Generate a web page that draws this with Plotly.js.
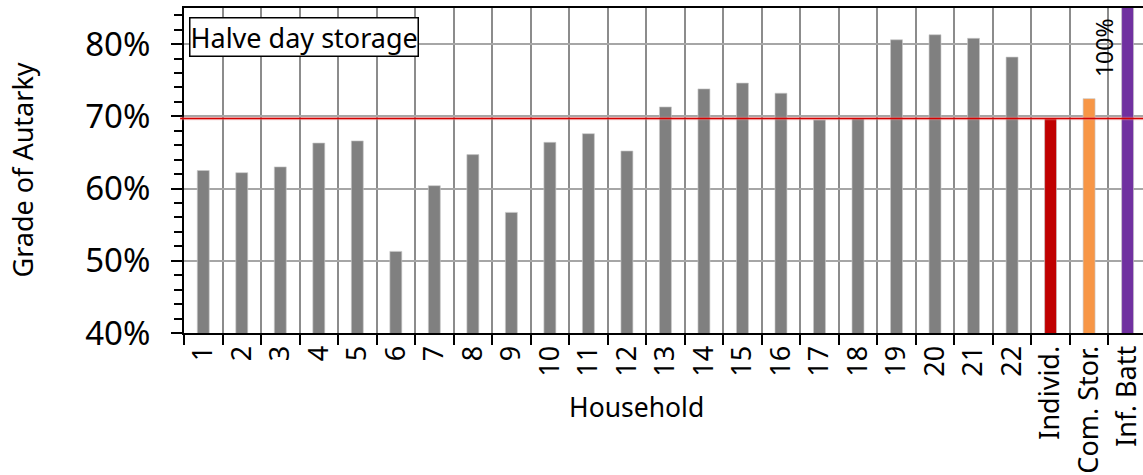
<!DOCTYPE html>
<html>
<head>
<meta charset="utf-8">
<script src="https://cdn.plot.ly/plotly-3.0.1.min.js"></script>
<style>html,body{margin:0;padding:0;background:#fff;}#chart{width:1143px;height:475px;}</style>
</head>
<body>
<div id="chart"></div>
<script>
// ---- data ----
const householdLabels = ['1','2','3','4','5','6','7','8','9','10','11','12','13','14','15','16','17','18','19','20','21','22'];
const householdValues = [62.5, 62.2, 63.0, 66.3, 66.6, 51.3, 60.4, 64.7, 56.7, 66.4, 67.6, 65.2, 71.3, 73.8, 74.6, 73.2, 69.5, 69.7, 80.6, 81.3, 80.8, 78.2];
const summaryLabels = ['Individ.', 'Com. Stor.', 'Inf. Batt'];
const summaryValues = [69.7, 72.45, 100];
const summaryColors = ['#c00000', '#f79646', '#7030a0'];
const householdColor = '#808080';
const yTickVals = [40, 50, 60, 70, 80];
const boxLabel = 'Halve day storage';
const xTitle = 'Household';
const yTitle = 'Grade of Autarky';

const categories = householdLabels.concat(summaryLabels);
const values = householdValues.concat(summaryValues);
const colors = householdLabels.map(() => householdColor).concat(summaryColors);
const individValue = summaryValues[0];
const infBattValue = summaryValues[2];

const FONT = 'Noto Sans, DejaVu Sans, sans-serif';

const trace = {
  type: 'bar',
  x: categories,
  y: values,
  width: 0.31,
  marker: { color: colors, line: { color: 'rgba(200,200,200,0.8)', width: 0.8 } },
  hoverinfo: 'x+y'
};

const layout = {
  width: 1143,
  height: 475,
  margin: { l: 184, r: 0, t: 8, b: 142 },
  paper_bgcolor: '#ffffff',
  plot_bgcolor: '#ffffff',
  showlegend: false,
  font: { family: FONT, color: '#000' },
  xaxis: {
    type: 'category',
    categoryorder: 'array',
    categoryarray: categories,
    range: [-0.5, 24.4],
    tickson: 'boundaries',
    ticks: 'outside',
    ticklen: 10,
    tickwidth: 2,
    tickcolor: '#000',
    tickangle: -90,
    tickfont: { family: FONT, size: 27, color: '#000' },
    showgrid: true,
    gridcolor: '#8c8c8c',
    gridwidth: 2,
    showline: true,
    linecolor: '#000',
    linewidth: 2,
    mirror: true,
    zeroline: false,
    fixedrange: true
  },
  yaxis: {
    range: [40, 85],
    tickmode: 'array',
    tickvals: yTickVals,
    ticktext: yTickVals.map(v => v + '%'),
    ticks: 'outside',
    ticklen: 11,
    tickwidth: 2,
    tickcolor: '#000',
    tickfont: { family: FONT, size: 33, color: '#000' },
    ticklabelstandoff: 14,
    minor: { dtick: 2, tick0: 40, ticks: 'outside', ticklen: 8, tickwidth: 2, tickcolor: '#000', showgrid: false },
    showgrid: true,
    gridcolor: '#a6a6a6',
    gridwidth: 2,
    showline: true,
    linecolor: '#000',
    linewidth: 2,
    zeroline: false,
    fixedrange: true
  },
  shapes: [
    {
      type: 'line', xref: 'paper', yref: 'y',
      x0: -0.004, x1: 1, y0: individValue, y1: individValue,
      line: { color: 'rgba(235,150,150,0.45)', width: 3.5 }, layer: 'above'
    },
    {
      type: 'line', xref: 'paper', yref: 'y',
      x0: -0.004, x1: 1, y0: individValue, y1: individValue,
      line: { color: '#d40000', width: 1.5 }, layer: 'above'
    }
  ],
  annotations: [
    {
      xref: 'paper', yref: 'paper', x: 0, y: 1,
      xshift: 5, yshift: -9,
      xanchor: 'left', yanchor: 'top',
      text: boxLabel, showarrow: false,
      font: { family: FONT, size: 27, color: '#000' },
      bgcolor: '#ffffff', bordercolor: '#000', borderwidth: 1.5, borderpad: 0
    },
    {
      xref: 'x', yref: 'paper', x: 'Inf. Batt', y: 1,
      xshift: -24, yshift: -8,
      xanchor: 'center', yanchor: 'top',
      textangle: -90,
      text: infBattValue + '%', showarrow: false,
      font: { family: FONT, size: 23, color: '#000' }
    },
    {
      xref: 'paper', yref: 'paper', x: (636 - 184) / 959, y: 0,
      yshift: -54, xanchor: 'center', yanchor: 'top',
      text: xTitle, showarrow: false,
      font: { family: FONT, size: 26.5, color: '#000' }
    },
    {
      xref: 'paper', yref: 'paper', x: 0, y: 0.5,
      xshift: -162, xanchor: 'center', yanchor: 'middle',
      textangle: -90,
      text: yTitle, showarrow: false,
      font: { family: FONT, size: 27, color: '#000' }
    }
  ]
};

Plotly.newPlot('chart', [trace], layout, { staticPlot: true, displayModeBar: false });
</script>
</body>
</html>
